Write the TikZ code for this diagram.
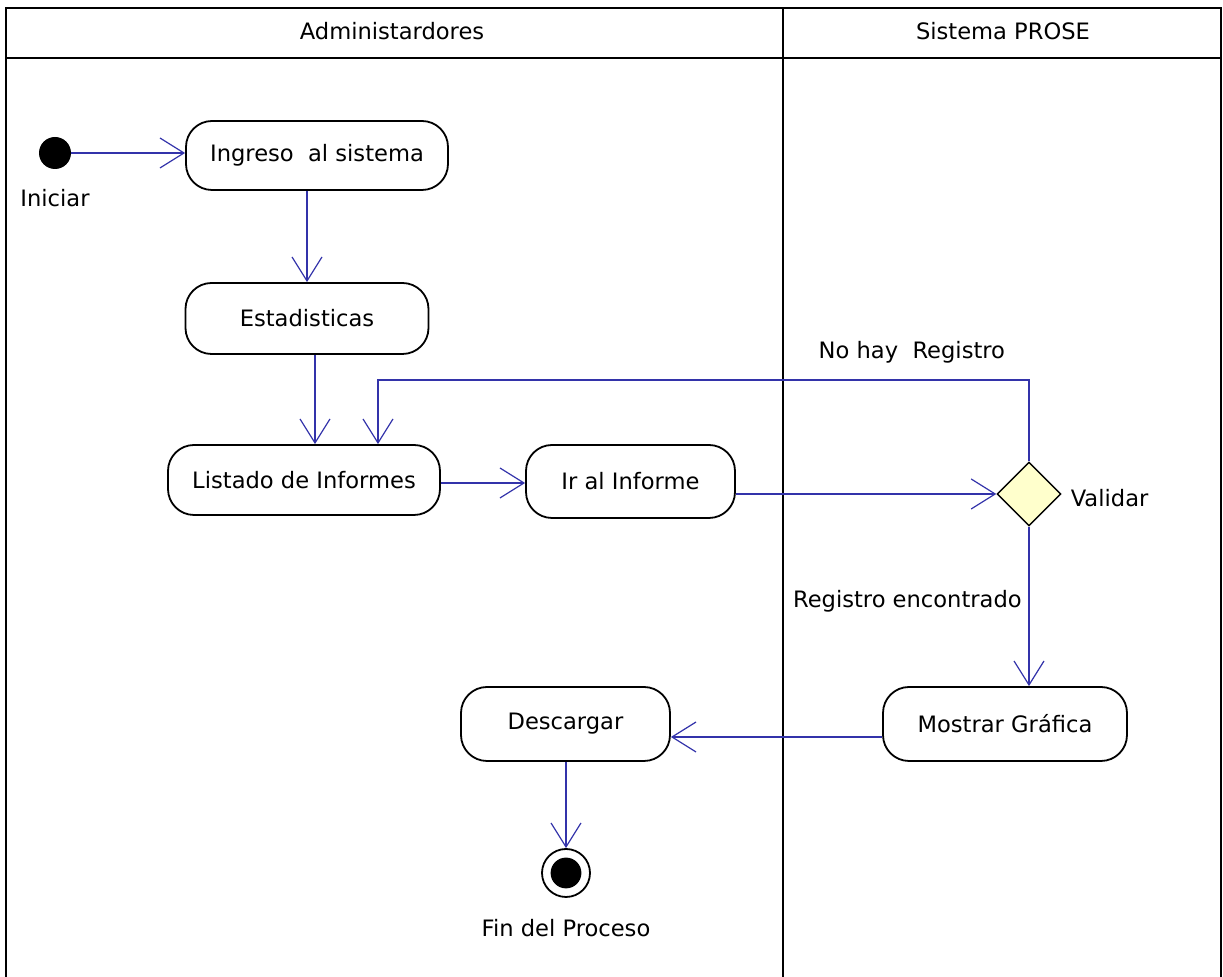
\documentclass[tikz,border=0pt]{standalone}
\usepackage{fontspec}
\setmainfont{DejaVu Sans}
\usepackage{xcolor}
\usepackage{tikz}
\usetikzlibrary{arrows.meta,positioning,shapes.geometric,calc}
\definecolor{flujo}{RGB}{51,51,170}
\definecolor{rombo}{RGB}{255,255,204}

\begin{document}
\begin{tikzpicture}[x=0.5pt,y=-0.5pt,font=\fontsize{11.3}{13.6}\selectfont,
  >={Straight Barb[length=12pt,width=15pt]},
  actividad/.style={draw=black,line width=0.9pt,fill=white,rectangle,rounded corners=13pt,inner sep=0pt},
  flecha/.style={->,draw=flujo,line width=0.6pt}]
  \useasboundingbox (0,0) rectangle (1223,977);
  % carriles
  \draw[line width=1pt] (6,977) -- (6,8) -- (1221,8) -- (1221,977);
  \draw[line width=1pt] (6,58) -- (1221,58);
  \draw[line width=1pt] (783,8) -- (783,977);
  \node (admin) at (392,31) {Administardores};
  \node (prose) at (1003,31) {Sistema PROSE};
  % nodos
  \node[circle,fill=black,minimum size=16pt,inner sep=0pt] (inicio) at (55,153) {};
  \node[below=6.5pt of inicio] (iniciar) {Iniciar};
  \node[actividad,minimum width=131pt,minimum height=34.5pt] (ingreso) at (317,155.5) {Ingreso\ \ al sistema};
  \node[actividad,minimum width=121.5pt,minimum height=35.5pt] (estad) at (307,318.5) {Estadisticas};
  \node[actividad,minimum width=136pt,minimum height=35pt] (listado) at (304,480) {Listado de Informes};
  \node[actividad,minimum width=104.5pt,minimum height=36.5pt] (ir) at (630.5,481.5) {Ir al Informe};
  \node[diamond,draw=black,line width=0.7pt,fill=rombo,minimum size=32pt,inner sep=0pt] (val) at (1029,494) {};
  \node[right=1pt of val,yshift=-2pt] (validar) {Validar};
  \node[actividad,minimum width=122pt,minimum height=37pt] (mostrar) at (1005,724) {Mostrar Gráfica};
  \node[actividad,minimum width=104.5pt,minimum height=37pt] (descargar) at (565.5,724) {Descargar};
  \node[circle,draw=black,fill=white,line width=0.9pt,minimum size=24pt,inner sep=0pt] (fin) at (566,873) {};
  \fill[black] (fin.center) circle (7.7pt);
  \node[below=7pt of fin] (finp) {Fin del Proceso};
  \coordinate (vuelta) at (378,380);
  % flujos
  \draw[flecha] (inicio.east) -- (inicio.east -| ingreso.west);
  \draw[flecha] (ingreso.south -| estad.north) -- (estad.north);
  \draw[flecha] ([xshift=4pt]estad.south) -- ([xshift=4pt]estad.south |- listado.north);
  \draw[flecha] ([yshift=-1.5pt]listado.east) -- ([yshift=-1.5pt]listado.east -| ir.west);
  \draw[flecha] (ir.east |- val.west) -- (val.west);
  \draw[flecha] (val.north) |- node[above=5pt,pos=0.59] (nohay) {No hay\ \ Registro} (vuelta)
    -- (vuelta |- listado.north);
  \draw[flecha] (val.south) -- node[left,pos=0.47] (encontrado) {Registro encontrado} (val.south |- mostrar.north);
  \draw[flecha] ([yshift=-6.5pt]mostrar.west) -- ([yshift=-6.5pt]mostrar.west -| descargar.east);
  \draw[flecha] (descargar.south -| fin.north) -- (fin.north);
\end{tikzpicture}
\end{document}
